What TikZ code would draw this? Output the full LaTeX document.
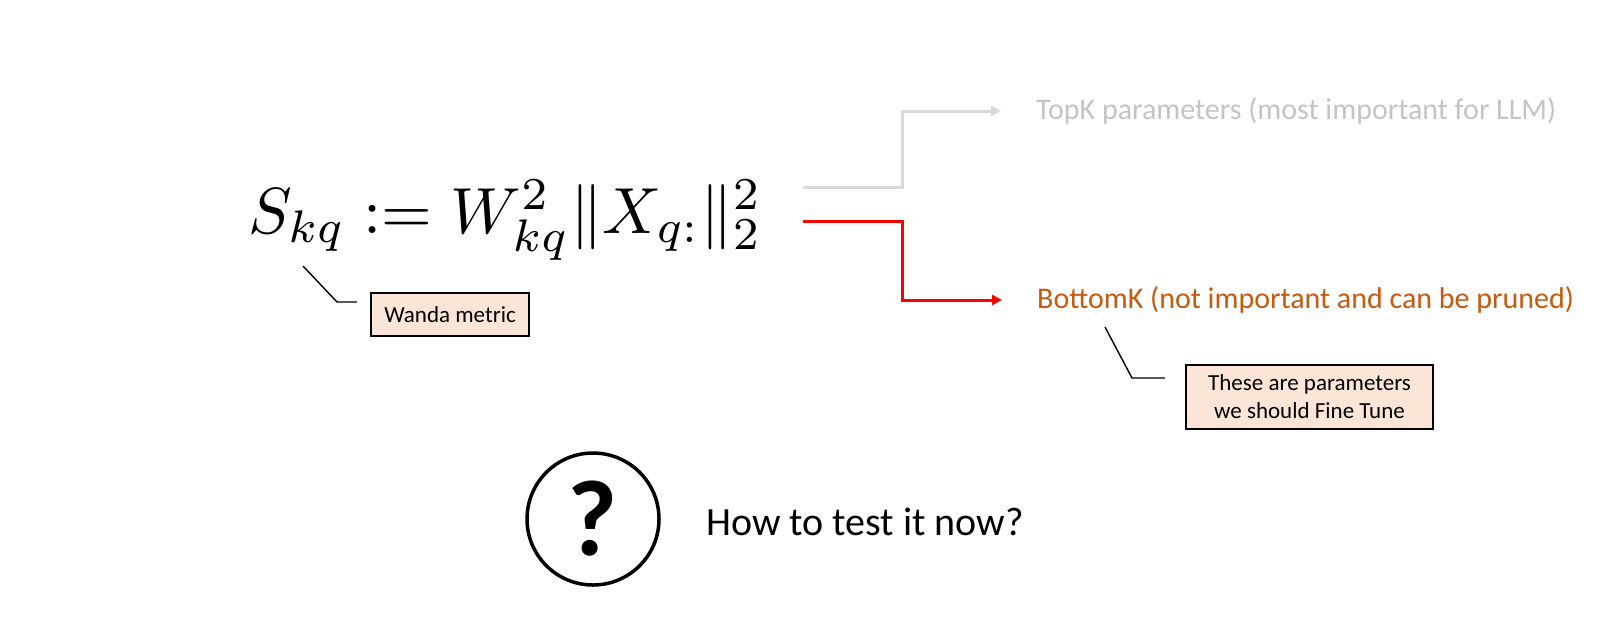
\documentclass[tikz,border=0pt]{standalone}
\usepackage{graphicx}
\usepackage{fontspec}
\setmainfont{Carlito}
\usetikzlibrary{arrows.meta}
\definecolor{lgray}{HTML}{D9D9D9}
\definecolor{tgray}{HTML}{C4C4C4}
\definecolor{pred}{HTML}{FF0000}
\definecolor{porange}{HTML}{C55A11}
\definecolor{boxfill}{HTML}{FBE5D6}
\begin{document}
\begin{tikzpicture}[x=1pt,y=-1pt,
  callbox/.style={draw=black, fill=boxfill, line width=1.4pt, inner sep=0pt, align=center, font=\fontsize{23}{28}\selectfont},
  callline/.style={draw=black, line width=1.4pt},
  conn/.style={line width=3pt, -{Triangle[length=10pt,width=10pt]}},
  lbl/.style={anchor=west, inner sep=0pt, font=\fontsize{30}{34}\selectfont}]
\useasboundingbox (0,0) rectangle (1600,625);
\fill[white] (0,0) rectangle (1600,625);

% formula
\node[anchor=base west, inner sep=0pt] (f) at (248,233)
  {\scalebox{6.52}{$S_{kq} := W_{kq}^2\|X_{q:}\|_2^2$}};
\coordinate (g0) at (803,187);
\coordinate (r0) at (803,221);

% labels
\node[lbl, text=tgray] (topk) at (1036,111) {TopK parameters (most important for LLM)};
\node[lbl, text=porange] (botk) at (1037,300) {BottomK (not important and can be pruned)};

% connectors
\draw[conn, lgray, shorten >=35pt] (g0) -- (902,187) |- (topk.west);
\draw[conn, pred, shorten >=35pt] (r0) -- (902,221) |- (botk.west);

% callouts
\node[callbox, minimum width=158pt, minimum height=43pt] (wm) at (450,314.5) {Wanda metric};
\coordinate (w0) at (303,266);
\draw[callline] (w0) -- (337,302) -- (357,302);

\node[callbox, minimum width=247pt, minimum height=64pt] (ft) at (1309.5,397) {These are parameters\\we should Fine Tune};
\coordinate (t0) at (1105,327);
\draw[callline] (t0) -- (1132,378) -- (1165,378);

% question
\node[circle, draw=black, line width=3.5pt, minimum size=132pt, inner sep=0pt] (q) at (593,519)
  {\fontsize{108}{108}\selectfont\bfseries ?};
\node[anchor=west, inner sep=0pt, font=\fontsize{40}{46}\selectfont] (how) at (706,522) {How to test it now?};
\end{tikzpicture}
\end{document}
